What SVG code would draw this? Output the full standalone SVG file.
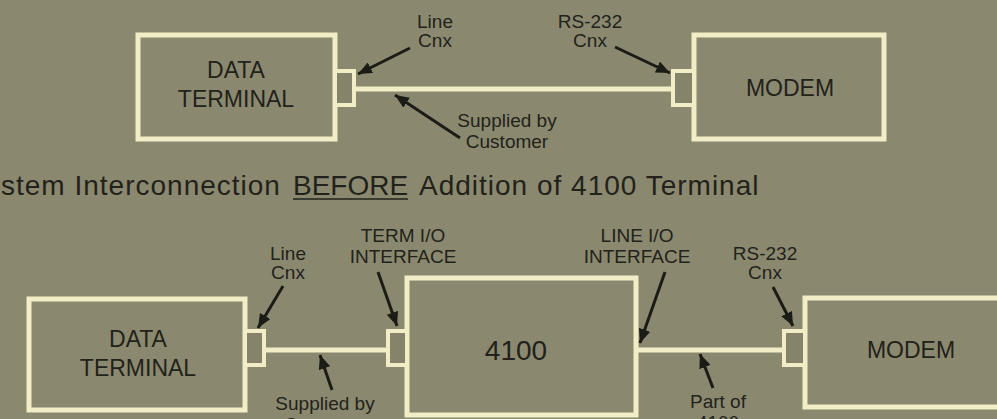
<svg xmlns="http://www.w3.org/2000/svg" width="997" height="419" viewBox="0 0 997 419">
  <defs>
    <style>
      .box { fill: none; stroke: #f1edc6; stroke-width: 5; }
      .cx { fill: #85846b; stroke: #f1edc6; stroke-width: 4; }
      .wire { stroke: #f1edc6; stroke-width: 5; fill: none; }
      .arr { stroke: #1c1c16; stroke-width: 3; fill: none; marker-end: url(#ah); }
      .node { font-family: "Liberation Sans", Arial, Helvetica, sans-serif; font-size: 23px; fill: #22221a; text-anchor: middle; }
      .lbl { font-family: "Liberation Sans", Arial, Helvetica, sans-serif; font-size: 19px; fill: #22221a; text-anchor: middle; }
      .cap { font-family: "Liberation Sans", Arial, Helvetica, sans-serif; font-size: 28px; fill: #22221a; }
    </style>
    <marker id="ah" markerUnits="userSpaceOnUse" markerWidth="16" markerHeight="12" refX="14" refY="6" orient="auto">
      <path d="M0,0 L14,6 L0,12 Z" fill="#1c1c16"/>
    </marker>
  </defs>
  <rect x="0" y="0" width="997" height="419" fill="#8a8970"/>

  <!-- connectors -->
  <g id="connectors">
    <line class="wire" x1="354" y1="89" x2="673" y2="89"/>
    <line class="wire" x1="264" y1="350" x2="388" y2="350"/>
    <line class="wire" x1="636" y1="350" x2="784" y2="350"/>
  </g>

  <!-- top diagram -->
  <g id="top-data-terminal">
    <rect class="box" x="138" y="35" width="197" height="104"/>
    <rect class="cx" x="335" y="71" width="19" height="34"/>
    <text class="node" x="236" y="78">DATA</text>
    <text class="node" x="236" y="107">TERMINAL</text>
  </g>
  <g id="top-modem">
    <rect class="box" x="694" y="35" width="190" height="104"/>
    <rect class="cx" x="673" y="71" width="21" height="34"/>
    <text class="node" x="790" y="96">MODEM</text>
  </g>

  <!-- bottom diagram -->
  <g id="bottom-data-terminal">
    <rect class="box" x="29" y="299" width="216" height="111"/>
    <rect class="cx" x="245" y="331" width="19" height="34"/>
    <text class="node" x="138" y="347">DATA</text>
    <text class="node" x="138" y="376">TERMINAL</text>
  </g>
  <g id="bottom-4100">
    <rect class="box" x="407" y="278" width="229" height="137"/>
    <rect class="cx" x="388" y="331" width="19" height="34"/>
    <text class="node" x="516" y="360" style="font-size:28px">4100</text>
  </g>
  <g id="bottom-modem">
    <rect class="box" x="805" y="298" width="220" height="109"/>
    <rect class="cx" x="784" y="331" width="21" height="34"/>
    <text class="node" x="911" y="358">MODEM</text>
  </g>

  <!-- annotations -->
  <g id="annotations">
    <line class="arr" x1="410" y1="48" x2="358" y2="74"/>
    <line class="arr" x1="615" y1="47" x2="670" y2="73"/>
    <line class="arr" x1="460" y1="138" x2="395" y2="95"/>
    <line class="arr" x1="283" y1="286" x2="258" y2="328"/>
    <line class="arr" x1="378" y1="272" x2="397" y2="326"/>
    <line class="arr" x1="332" y1="390" x2="320" y2="355"/>
    <line class="arr" x1="665" y1="272" x2="640" y2="343"/>
    <line class="arr" x1="773" y1="287" x2="793" y2="326"/>
    <line class="arr" x1="713" y1="388" x2="700" y2="354"/>

    <text class="lbl" x="435" y="28">Line</text>
    <text class="lbl" x="435" y="47">Cnx</text>
    <text class="lbl" x="590" y="28">RS-232</text>
    <text class="lbl" x="590" y="47">Cnx</text>
    <text class="lbl" x="507" y="127">Supplied by</text>
    <text class="lbl" x="507" y="148">Customer</text>

    <text class="lbl" x="288" y="260">Line</text>
    <text class="lbl" x="288" y="279">Cnx</text>
    <text class="lbl" x="403" y="242">TERM I/O</text>
    <text class="lbl" x="403" y="263">INTERFACE</text>
    <text class="lbl" x="637" y="242">LINE I/O</text>
    <text class="lbl" x="637" y="263">INTERFACE</text>
    <text class="lbl" x="765" y="260">RS-232</text>
    <text class="lbl" x="765" y="279">Cnx</text>
    <text class="lbl" x="325" y="410">Supplied by</text>
    <text class="lbl" x="325" y="431">Customer</text>
    <text class="lbl" x="718" y="408">Part of</text>
    <text class="lbl" x="718" y="429">4100</text>
  </g>

  <!-- caption -->
  <g id="caption">
    <text class="cap" y="195"><tspan x="1" letter-spacing="1">stem Interconnection</tspan><tspan x="293">BEFORE</tspan><tspan x="419" letter-spacing="1">Addition of 4100 Terminal</tspan></text>
    <line x1="293" y1="199" x2="408" y2="199" stroke="#22221a" stroke-width="1.6"/>
  </g>
</svg>
